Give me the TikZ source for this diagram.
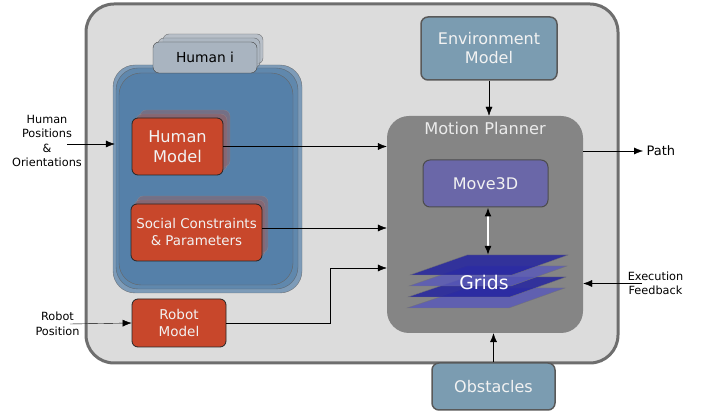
\documentclass[tikz,border=0pt]{standalone}
\usepackage{fontspec}
\setmainfont{DejaVu Sans}
\usetikzlibrary{arrows.meta}

\definecolor{panelgray}{HTML}{DCDCDC}
\definecolor{framegray}{HTML}{6E6E6E}
\definecolor{humanblue}{HTML}{5580A9}
\definecolor{tabgray}{HTML}{A9B4C0}
\definecolor{modelred}{HTML}{C8472B}
\definecolor{inputblue}{HTML}{7B9CB1}
\definecolor{plannergray}{HTML}{858585}
\definecolor{moveviolet}{HTML}{6A67A8}
\definecolor{griddark}{HTML}{2424A0}
\definecolor{gridlight}{HTML}{5A5AB8}

\tikzset{
  >={Latex[length=9pt,width=7pt]},
  stackblue/.style={fill=humanblue, draw=black!65, opacity=0.7, rounded corners=22pt},
  humanbox/.style={fill=humanblue, draw=black!60, rounded corners=22pt, inner sep=0pt},
  tabback/.style={fill=tabgray, draw=black!70, opacity=0.7, rounded corners=6pt},
  tabbox/.style={fill=tabgray, draw=black!75, rounded corners=6pt, inner sep=0pt,
    font=\fontsize{13.8}{16}\selectfont},
  redshadow/.style={fill=modelred!60!humanblue, draw=black!40, opacity=0.45, rounded corners=6pt},
  redbox/.style={draw=black!85, fill=modelred, rounded corners=6pt, text=white!95!black,
    align=center, thick, inner sep=0pt},
  inbox/.style={draw=black!65, fill=inputblue, rounded corners=7pt, text=white!95!black,
    align=center, line width=1.5pt, inner sep=0pt, font=\fontsize{16}{19}\selectfont},
  sidetext/.style={align=center, font=\fontsize{11.3}{14.5}\selectfont},
  gridlayer/.style={draw=black!55, opacity=0.85},
}

\begin{document}
\begin{tikzpicture}[x=1pt,y=-1pt]
\useasboundingbox (0,0) rectangle (710,411);

% frame
\draw[line width=3pt, draw=framegray, fill=panelgray, rounded corners=28pt] (86,4) rectangle (618,363);

% humans
\draw[stackblue] (113,65) rectangle (302,293);
\draw[stackblue] (116,68) rectangle (298,289);
\node[humanbox, minimum width=174pt, minimum height=212pt] (humans) at (206,179) {};

\draw[tabback] (163,34) rectangle (263,64);
\draw[tabback] (158,38) rectangle (260,68);
\node[tabbox, minimum width=104pt, minimum height=31pt] (humani) at (205,57.5) {Human i};

\draw[redshadow] (140,110) rectangle (230,167);
\draw[redshadow] (136,114) rectangle (227,171);
\node[redbox, minimum width=91pt, minimum height=57pt, font=\fontsize{16.2}{19.5}\selectfont]
  (hmodel) at (177.5,146.5) {Human\\Model};

\draw[redshadow] (137,196) rectangle (268,253);
\draw[redshadow] (134,200) rectangle (265,257);
\node[redbox, minimum width=131pt, minimum height=57pt, font=\fontsize{13.4}{17}\selectfont]
  (social) at (196.5,232.5) {Social Constraints\\\& Parameters};

\node[redbox, minimum width=94pt, minimum height=48pt, font=\fontsize{13.5}{16.5}\selectfont]
  (rmodel) at (179,323) {Robot\\Model};

% planner
\node[fill=plannergray, rounded corners=22pt, minimum width=196pt, minimum height=217pt,
  label={[anchor=north, yshift=-3pt, text=white!92!black, font=\fontsize{16.2}{19}\selectfont]north:Motion Planner}]
  (planner) at (485,224.5) {};
\node[draw=black!70, fill=moveviolet, rounded corners=7pt, line width=1pt, text=white!95!black,
  minimum width=125pt, minimum height=47pt, font=\fontsize{16}{19}\selectfont]
  (move3d) at (485.5,183.5) {Move3D};

\foreach \k/\c in {3/gridlight,2/griddark,1/gridlight,0/griddark}
  \draw[gridlayer, fill=\c] (467,{255+11*\k}) -- (568-\k,{255+11*\k})
    -- (512-\k,{275+11*\k}) -- (410-\k,{275+11*\k}) -- cycle;
\node[text=white, font=\fontsize{18.8}{22}\selectfont] (grids) at (484,282) {Grids};
\coordinate (gridtop) at (488,255);

\node[inbox, minimum width=136pt, minimum height=63pt] (envmodel) at (489,48.5) {Environment\\Model};
\node[inbox, minimum width=123pt, minimum height=47pt] (obstacles) at (493.5,386.5) {Obstacles};

% outside texts
\node[sidetext] (hpos) at (47,141) {Human\\Positions\\\&\\Orientations};
\coordinate (hposout) at (67,144);
\node[sidetext] (rpos) at (57.5,324) {Robot\\Position};
\coordinate (rposout) at (70,324);
\node[sidetext] (feedback) at (655.5,283.5) {Execution\\Feedback};
\coordinate (fbout) at (642,283.5);
\node[anchor=west, font=\fontsize{13}{16}\selectfont] (path) at (643,151) {Path};
\coordinate (socialout) at ([yshift=4.5pt]social.east);

% connections
\draw[->] (hposout) -- ([xshift=-4pt]humans.west |- hposout);
\draw[->] (rposout) -- (rmodel.west);
\draw[->] (hmodel.east) -- (planner.west |- hmodel.east);
\draw[->] (socialout) -- (planner.west |- socialout);
\draw[->] (rmodel.east) -- ++(104,0) |- ([yshift=-43.5pt]planner.west);
\draw[->] (envmodel.south) -- (planner.north -| envmodel.south);
\draw[->] (obstacles.north) -- (planner.south -| obstacles.north);
\draw[->] (planner.east |- path.west) -- (path.west);
\draw[->] (fbout) -- (planner.east |- fbout);
\draw[{Latex[black,length=9pt,width=7pt]}-{Latex[black,length=9pt,width=7pt]}, white, line width=1.5pt]
  (move3d.south -| gridtop) -- (gridtop);
\end{tikzpicture}
\end{document}
